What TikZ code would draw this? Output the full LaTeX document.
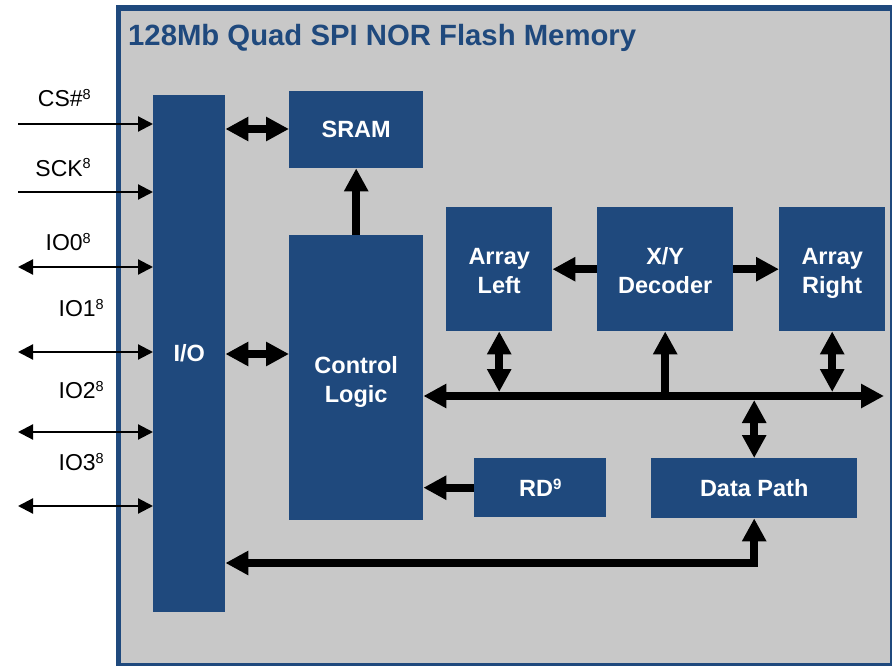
\documentclass[tikz,border=0pt]{standalone}
\usepackage{fontspec}
\setmainfont{Liberation Sans}
\usetikzlibrary{arrows.meta}
\definecolor{chipblue}{HTML}{1F497D}
\definecolor{chipgray}{HTML}{C8C8C8}
% small raised digits for footnote marks
\newcommand\pinsup[1]{\raisebox{7pt}{\fontsize{14.5}{14.5}\selectfont #1}}
\newcommand\boxsup[1]{\raisebox{7pt}{\fontsize{15}{15}\selectfont\bfseries #1}}
% two centred lines, drawn a little lower than their box
\newcommand\twolines[3]{\raisebox{-#3}[\height][\depth]{\begin{tabular}{@{}c@{}}#1\\#2\end{tabular}}}
\begin{document}
\begin{tikzpicture}[x=1pt,y=-1pt,
  block/.style={fill=chipblue, text=white, inner sep=0pt, anchor=north west,
    align=center, font=\fontsize{23.5}{29}\selectfont\bfseries},
  bus/.style={line width=8pt, line join=miter},
  busarrow/.style={bus, -{Triangle[length=23pt,width=23pt]}},
  busboth/.style={bus, {Triangle[length=23pt,width=23pt]}-{Triangle[length=23pt,width=23pt]}},
  pin/.style={line width=2.2pt, -{Triangle[length=15pt,width=15pt]}},
  pinboth/.style={line width=2.2pt, {Triangle[length=15pt,width=15pt]}-{Triangle[length=15pt,width=15pt]}},
  pinlabel/.style={anchor=base east, inner sep=0pt, font=\fontsize{23}{23}\selectfont}]
\useasboundingbox (0,0) rectangle (892,666);

% chip outline
\fill[chipblue] (116,5) rectangle (892,666);
\fill[chipgray] (121,11) rectangle (890,663);
\node[anchor=base west, inner sep=0pt, text=chipblue,
  font=\fontsize{29.3}{29.3}\selectfont\bfseries] (title) at (128,46)
  {128Mb Quad SPI NOR Flash Memory};

% functional blocks
\node[block, minimum width=72pt,  minimum height=517pt] (io)   at (153,95)  {I/O};
\node[block, minimum width=134pt, minimum height=77pt]  (sram) at (289,91)  {SRAM};
\node[block, minimum width=134pt, minimum height=285pt] (ctrl) at (289,235) {\twolines{Control}{Logic}{4pt}};
\node[block, minimum width=106pt, minimum height=124pt] (al)   at (446,207) {\twolines{Array}{Left}{3.5pt}};
\node[block, minimum width=136pt, minimum height=124pt] (xy)   at (597,207) {\twolines{X/Y}{Decoder}{3.5pt}};
\node[block, minimum width=106pt, minimum height=124pt] (ar)   at (779,207) {\twolines{Array}{Right}{3.5pt}};
\node[block, minimum width=132pt, minimum height=59pt]  (rd)   at (474,458) {RD\boxsup{9}};
\node[block, minimum width=206pt, minimum height=60pt]  (dp)   at (651,458) {Data Path};

% internal connections
\coordinate (iosram) at (225,129);
\coordinate (ioctrl) at (225,354);
\draw[busboth] (io.east |- iosram) -- (sram.west |- iosram);
\draw[busboth] (io.east |- ioctrl) -- (ctrl.west |- ioctrl);
\draw[busarrow] (ctrl.north) -- (sram.south);
\draw[busarrow] (xy.west) -- (al.east);
\draw[busarrow] (xy.east) -- (ar.west);

\coordinate (busend) at (884,396);
\draw[busboth] (ctrl.east |- busend) -- (busend);
\draw[busboth, shorten >=4pt] (al.south) -- (al.south |- busend);
\draw[busboth, shorten >=4pt] (ar.south) -- (ar.south |- busend);
\draw[busarrow] (xy.south |- busend) -- (xy.south);
\draw[busboth, shorten >=4pt] (dp.north) -- (dp.north |- busend);
\draw[busarrow] (rd.west) -- (ctrl.east |- rd.west);

\coordinate (lowbus) at (752,563);
\draw[busboth] (io.east |- lowbus) -- (dp.south |- lowbus) -- (dp.south);

% external pins
\coordinate (csin)  at (18,124);
\coordinate (sckin) at (18,192);
\coordinate (io0in) at (18,267);
\coordinate (io1in) at (18,352);
\coordinate (io2in) at (18,432);
\coordinate (io3in) at (18,506);
\draw[pin]     (csin)  -- (io.west |- csin);
\draw[pin]     (sckin) -- (io.west |- sckin);
\draw[pinboth] (io0in) -- (io.west |- io0in);
\draw[pinboth] (io1in) -- (io.west |- io1in);
\draw[pinboth] (io2in) -- (io.west |- io2in);
\draw[pinboth] (io3in) -- (io.west |- io3in);

\node[pinlabel] (cslbl)  at (91,107)  {CS\#\pinsup{8}};
\node[pinlabel] (scklbl) at (91,176)  {SCK\pinsup{8}};
\node[pinlabel] (io0lbl) at (91,250)  {IO0\pinsup{8}};
\node[pinlabel] (io1lbl) at (104,316) {IO1\pinsup{8}};
\node[pinlabel] (io2lbl) at (104,398) {IO2\pinsup{8}};
\node[pinlabel] (io3lbl) at (104,470) {IO3\pinsup{8}};
\end{tikzpicture}
\end{document}
